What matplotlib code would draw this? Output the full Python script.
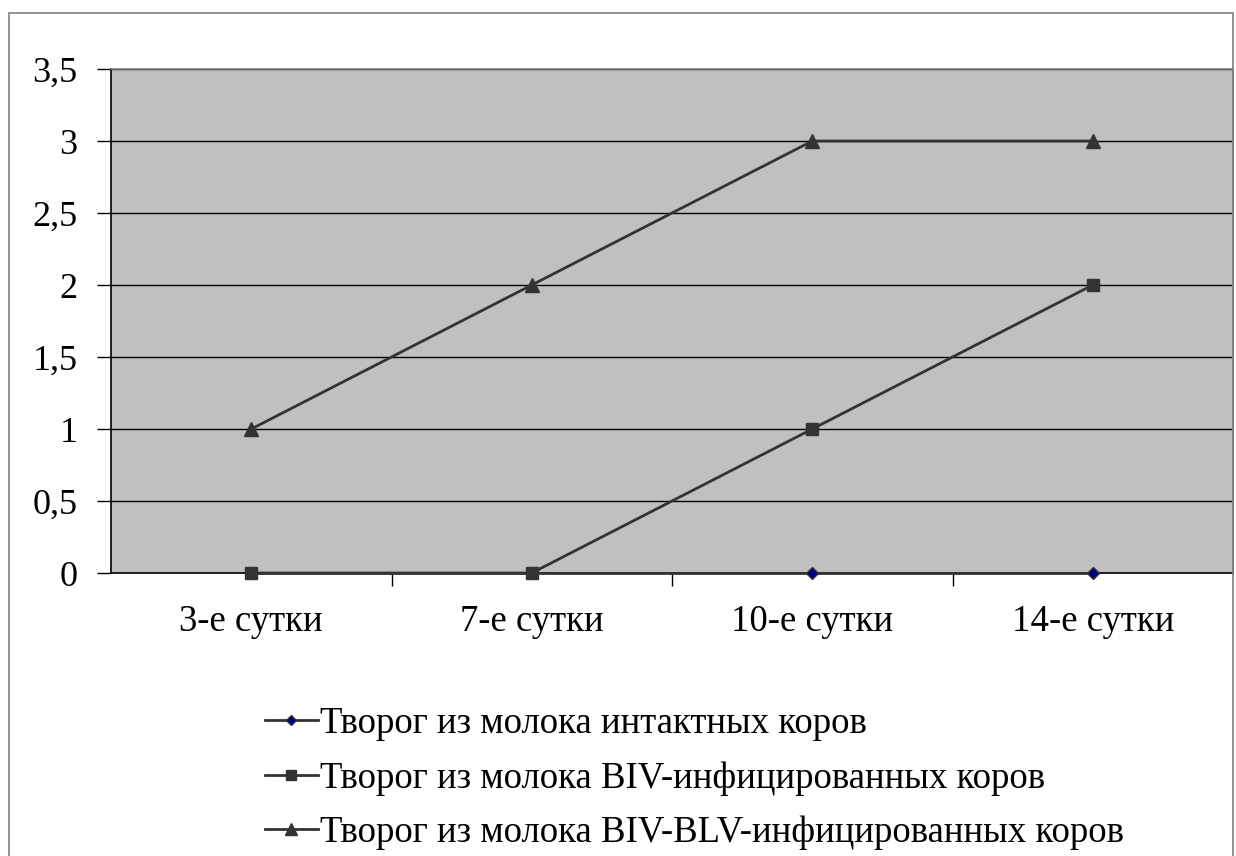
import numpy as np
import matplotlib.pyplot as plt
from matplotlib.patches import Rectangle
from matplotlib.ticker import FuncFormatter

categories = ['3-е сутки', '7-е сутки', '10-е сутки', '14-е сутки']
intact = [0, 0, 0, 0]
biv = [0, 0, 1, 2]
biv_blv = [1, 2, 3, 3]
series_names = ['Творог из молока интактных коров',
                'Творог из молока BIV-инфицированных коров',
                'Творог из молока BIV-BLV-инфицированных коров']

plt.rcParams['font.family'] = ['Liberation Serif', 'DejaVu Serif']

W, H = 1236, 856
fig = plt.figure(figsize=(W / 100, H / 100), dpi=100)
ax = fig.add_axes([111 / W, 1 - 573 / H, (1233 - 111) / W, (573 - 69) / H])

# outer chart frame
fig.patches.append(Rectangle((9 / W, -0.01), (1233 - 9) / W, 1 - 13 / H + 0.01,
                             transform=fig.transFigure, fill=False,
                             edgecolor='#808080', lw=1.2, zorder=0))

ax.set_facecolor('#c0c0c0')
x = np.arange(len(categories))
line_col = '#333333'
ax.plot(x, intact, color=line_col, lw=2, marker='D', ms=6, clip_on=False,
        mfc='#000080', mec='#333333', label=series_names[0], zorder=4)
ax.plot(x, biv, color=line_col, lw=2, marker='s', ms=9, clip_on=False,
        mfc='#333333', mec='#333333', label=series_names[1], zorder=4)
ax.plot(x, biv_blv, color=line_col, lw=2, marker='^', ms=10, clip_on=False,
        mfc='#333333', mec='#333333', label=series_names[2], zorder=4)

ax.set_xlim(-0.5, len(categories) - 0.5)
ax.set_ylim(0, 3.5)
ax.set_yticks(np.arange(0, 3.51, 0.5))
ax.yaxis.set_major_formatter(FuncFormatter(lambda v, p: f'{v:g}'.replace('.', ',')))
ax.grid(axis='y', color='black', lw=1)
ax.set_axisbelow(True)

ax.set_xticks(x)
ax.set_xticklabels(categories)
ax.set_xticks(np.arange(0.5, len(categories) - 0.5), minor=True)
ax.tick_params(axis='x', which='major', length=0, pad=23, labelsize=26.5)
ax.tick_params(axis='x', which='minor', length=9, width=1, color='black')
ax.tick_params(axis='y', length=10, width=1, pad=14, labelsize=26)

ax.spines['left'].set_color('black')
ax.spines['bottom'].set_color('black')
ax.spines['top'].set_color('#808080')
ax.spines['right'].set_color('#808080')
for s in ax.spines.values():
    s.set_linewidth(1.2)

handles, labels = ax.get_legend_handles_labels()
fig.legend(handles, labels, loc='upper left', bbox_to_anchor=(250 / W, 1 - 692 / H),
           frameon=False, fontsize=26.5, handlelength=1.45, handletextpad=0.05,
           labelspacing=0.54, borderaxespad=0, markerscale=0.8)

fig.savefig('out.png', dpi=100)
